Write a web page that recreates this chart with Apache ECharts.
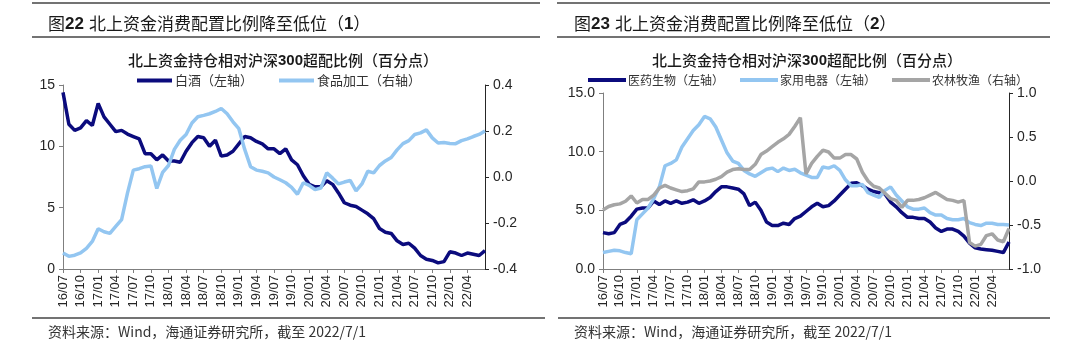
<!DOCTYPE html>
<html>
<head>
<meta charset="utf-8">
<script src="https://cdn.jsdelivr.net/npm/echarts@6/dist/echarts.min.js"></script>
<style>
  html, body { margin: 0; padding: 0; background: #fff; }
  #chart { width: 1080px; height: 352px; }
</style>
</head>
<body>
<div id="chart"></div>
<script>
// 月度类目（16/07 - 22/07）
const months = [
  '16/07','16/08','16/09','16/10','16/11','16/12',
  '17/01','17/02','17/03','17/04','17/05','17/06','17/07','17/08','17/09','17/10','17/11','17/12',
  '18/01','18/02','18/03','18/04','18/05','18/06','18/07','18/08','18/09','18/10','18/11','18/12',
  '19/01','19/02','19/03','19/04','19/05','19/06','19/07','19/08','19/09','19/10','19/11','19/12',
  '20/01','20/02','20/03','20/04','20/05','20/06','20/07','20/08','20/09','20/10','20/11','20/12',
  '21/01','21/02','21/03','21/04','21/05','21/06','21/07','21/08','21/09','21/10','21/11','21/12',
  '22/01','22/02','22/03','22/04','22/05','22/06','22/07'
];

// 图22：白酒（左轴）、食品加工（右轴）
const baijiu = [
  14.4, 11.8, 11.3, 11.5, 12.1, 11.7,
  13.5, 12.4, 11.8, 11.2, 11.3, 11.0, 10.8, 10.6, 9.4, 9.4, 8.9, 9.3,
  8.8, 8.8, 8.7, 9.6, 10.3, 10.8, 10.7, 10.0, 10.5, 9.2, 9.3, 9.6,
  10.2, 10.8, 10.7, 10.4, 10.2, 9.8, 9.8, 9.4, 9.8, 8.9, 8.5, 7.6,
  6.9, 6.7, 6.7, 7.2, 6.9, 6.2, 5.4, 5.2, 5.1, 4.8, 4.5, 4.1,
  3.3, 3.0, 2.9, 2.3, 2.0, 2.1, 1.7, 1.1, 0.8, 0.7, 0.5, 0.6,
  1.4, 1.3, 1.1, 1.3, 1.2, 1.1, 1.5
];
const shipin = [
  -0.33, -0.345, -0.34, -0.33, -0.31, -0.28,
  -0.225, -0.238, -0.245, -0.215, -0.185, -0.07, 0.03, 0.036, 0.045, 0.048, -0.05, 0.02,
  0.05, 0.12, 0.16, 0.185, 0.235, 0.262, 0.268, 0.275, 0.285, 0.298, 0.275, 0.24,
  0.21, 0.12, 0.045, 0.03, 0.025, 0.018, 0.0, -0.012, -0.025, -0.045, -0.075, -0.025,
  -0.036, -0.055, -0.048, 0.018, -0.005, -0.03, -0.022, -0.015, -0.06, -0.03, 0.025, 0.018,
  0.05, 0.07, 0.085, 0.118, 0.145, 0.158, 0.185, 0.192, 0.205, 0.17, 0.148, 0.15,
  0.146, 0.145, 0.158, 0.166, 0.176, 0.185, 0.2
];

// 图23：医药生物（左轴）、家用电器（左轴）、农林牧渔（右轴）
const yiyao = [
  3.1, 3.0, 3.1, 3.8, 4.0, 4.5,
  5.1, 5.2, 5.2, 5.8, 5.5, 5.8, 5.6, 5.8, 5.6, 5.7, 5.9, 5.6,
  5.8, 6.1, 6.6, 7.0, 7.0, 6.9, 6.8, 6.4, 5.4, 5.7, 5.0, 4.0,
  3.7, 3.7, 3.9, 3.8, 4.3, 4.5, 4.9, 5.3, 5.6, 5.3, 5.4, 5.8,
  6.3, 6.8, 7.3, 7.35, 7.1, 6.8, 6.6, 6.5, 6.4, 5.7, 5.3, 4.8,
  4.4, 4.4, 4.3, 4.3, 4.0, 3.5, 3.2, 3.4, 3.4, 3.2, 2.8, 2.2,
  1.8, 1.7, 1.65, 1.6, 1.5, 1.4, 2.3
];
const jiadian = [
  1.4, 1.5, 1.6, 1.55, 1.4, 1.3,
  4.2, 4.7, 5.2, 6.0, 7.0, 8.8, 9.0, 9.3, 10.4, 11.1, 11.8, 12.3,
  13.0, 12.8, 12.1, 11.0, 9.9, 9.2, 9.0, 8.4, 8.1, 7.9, 8.2, 8.5,
  8.6, 8.3, 8.6, 8.4, 8.5, 8.2, 8.0, 7.8, 7.8, 8.7, 8.6, 8.8,
  8.4, 7.6, 7.1, 7.1, 7.2, 6.5, 6.3, 6.1, 6.7, 7.0, 6.3, 5.8,
  5.3, 5.1, 5.1, 5.2, 4.8, 4.6, 4.6, 4.3, 4.2, 4.2, 4.3, 3.95,
  3.8, 3.7, 3.9, 3.9, 3.8, 3.8, 3.75
];
const nonglin = [
  -0.33, -0.29, -0.27, -0.26, -0.23, -0.17,
  -0.25, -0.21, -0.21, -0.16, -0.08, -0.05, -0.08, -0.1, -0.12, -0.11, -0.09, -0.01,
  -0.01, 0.0, 0.02, 0.05, 0.1, 0.13, 0.14, 0.13, 0.13, 0.19, 0.3, 0.34,
  0.39, 0.44, 0.48, 0.53, 0.62, 0.72, 0.08, 0.2, 0.28, 0.35, 0.33, 0.26,
  0.26, 0.3, 0.3, 0.25, 0.1, 0.0, -0.06, -0.08, -0.14, -0.2, -0.22, -0.3,
  -0.22, -0.22, -0.21, -0.19, -0.16, -0.13, -0.17, -0.21, -0.22, -0.24, -0.22, -0.7,
  -0.74, -0.72, -0.62, -0.6, -0.67, -0.69, -0.54
];

const NAVY = '#0b0b7d';
const LIGHT = '#93c6f1';
const GRAY = '#a5a5a5';
const CJK = '"Noto Sans CJK SC", sans-serif';
const LATIN = 'Arial, "Liberation Sans", sans-serif';

// 季度标签，最后一个 22/07 不显示
const quarterly = (idx) => idx % 3 === 0 && idx < months.length - 1;

function xAxisOf(gridIndex) {
  return {
    type: 'category',
    gridIndex: gridIndex,
    data: months,
    boundaryGap: false,
    axisLine: { lineStyle: { color: '#7f7f7f', width: 1 } },
    axisTick: { interval: quarterly, length: 4, lineStyle: { color: '#7f7f7f' } },
    axisLabel: {
      interval: quarterly, rotate: 90, margin: 6,
      fontFamily: LATIN, fontSize: 13, color: '#262626'
    },
    splitLine: { show: false }
  };
}

function yAxisOf(gridIndex, min, max, interval, digits, side, lineColor) {
  return {
    type: 'value',
    gridIndex: gridIndex,
    position: side,
    min: min, max: max, interval: interval,
    axisLine: { show: true, lineStyle: { color: lineColor, width: 1 } },
    axisTick: { show: true, length: 4, lineStyle: { color: lineColor } },
    axisLabel: {
      fontFamily: LATIN, fontSize: 14, color: '#262626', margin: 8,
      formatter: (v) => v.toFixed(digits)
    },
    splitLine: { show: false }
  };
}

function lineSeries(name, data, color, xi, yi) {
  return {
    name: name, type: 'line', data: data,
    xAxisIndex: xi, yAxisIndex: yi,
    showSymbol: false, symbol: 'none',
    lineStyle: { color: color, width: 3.5 },
    itemStyle: { color: color },
    emphasis: { disabled: true }
  };
}

function rule(x1, x2, y) {
  return {
    type: 'line', silent: true,
    shape: { x1: x1, y1: y, x2: x2, y2: y },
    style: { stroke: '#444', lineWidth: 1.5 }
  };
}

const headRich = {
  c: { fontFamily: CJK, fontSize: 17, fontWeight: 'normal', color: '#1a1a1a' },
  b: { fontFamily: LATIN, fontSize: 17, fontWeight: 'bold', color: '#1a1a1a' }
};
const subRich = {
  c: { fontFamily: CJK, fontSize: 15, fontWeight: 500, color: '#1a1a1a' },
  b: { fontFamily: LATIN, fontSize: 15, fontWeight: 'bold', color: '#1a1a1a' }
};
const sourceText = '资料来源：Wind，海通证券研究所，截至 2022/7/1';

const chart = echarts.init(document.getElementById('chart'), null, { renderer: 'canvas' });

const option = {
  animation: false,
  backgroundColor: '#fff',
  title: [
    {
      text: '{c|图}{b|22} {c|北上资金消费配置比例降至低位（}{b|1}{c|）}',
      left: 43, top: 10, textStyle: { rich: headRich }
    },
    {
      text: '{c|图}{b|23} {c|北上资金消费配置比例降至低位（}{b|2}{c|）}',
      left: 569, top: 10, textStyle: { rich: headRich }
    },
    {
      text: '{c|北上资金持仓相对沪深}{b|300}{c|超配比例（百分点）}',
      left: 278, top: 48, textAlign: 'center', textStyle: { rich: subRich }
    },
    {
      text: '{c|北上资金持仓相对沪深}{b|300}{c|超配比例（百分点）}',
      left: 802, top: 48, textAlign: 'center', textStyle: { rich: subRich }
    },
    {
      text: sourceText, left: 43, top: 320,
      textStyle: { fontFamily: CJK, fontSize: 14, fontWeight: 'normal', color: '#333' }
    },
    {
      text: sourceText, left: 569, top: 320,
      textStyle: { fontFamily: CJK, fontSize: 14, fontWeight: 'normal', color: '#333' }
    }
  ],
  legend: [
    {
      data: ['白酒（左轴）', '食品加工（右轴）'],
      left: 132, top: 69,
      icon: 'rect', itemWidth: 35, itemHeight: 4, itemGap: 26,
      textStyle: { fontFamily: CJK, fontSize: 13, color: '#333', padding: [0, 0, 0, -2] }
    },
    {
      data: ['医药生物（左轴）', '家用电器（左轴）', '农林牧渔（右轴）'],
      left: 583, top: 69,
      icon: 'rect', itemWidth: 38, itemHeight: 4, itemGap: 16,
      textStyle: { fontFamily: CJK, fontSize: 12, color: '#333', padding: [0, 0, 0, -3] }
    }
  ],
  grid: [
    { left: 63, right: 595, top: 85, bottom: 83, containLabel: false },
    { left: 603, right: 71, top: 93, bottom: 83, containLabel: false }
  ],
  xAxis: [xAxisOf(0), xAxisOf(1)],
  yAxis: [
    yAxisOf(0, 0, 15, 5, 0, 'left', '#7f7f7f'),
    yAxisOf(0, -0.4, 0.4, 0.2, 1, 'right', '#262626'),
    yAxisOf(1, 0, 15, 5, 1, 'left', '#7f7f7f'),
    yAxisOf(1, -1, 1, 0.5, 1, 'right', '#262626')
  ],
  series: [
    lineSeries('白酒（左轴）', baijiu, NAVY, 0, 0),
    lineSeries('食品加工（右轴）', shipin, LIGHT, 0, 1),
    lineSeries('医药生物（左轴）', yiyao, NAVY, 1, 2),
    lineSeries('家用电器（左轴）', jiadian, LIGHT, 1, 2),
    lineSeries('农林牧渔（右轴）', nonglin, GRAY, 1, 3)
  ],
  graphic: [
    rule(32, 540, 3), rule(32, 540, 37), rule(32, 545, 318),
    rule(557, 1050, 3), rule(557, 1050, 37), rule(558, 1050, 318)
  ]
};

chart.setOption(option);
</script>
</body>
</html>
